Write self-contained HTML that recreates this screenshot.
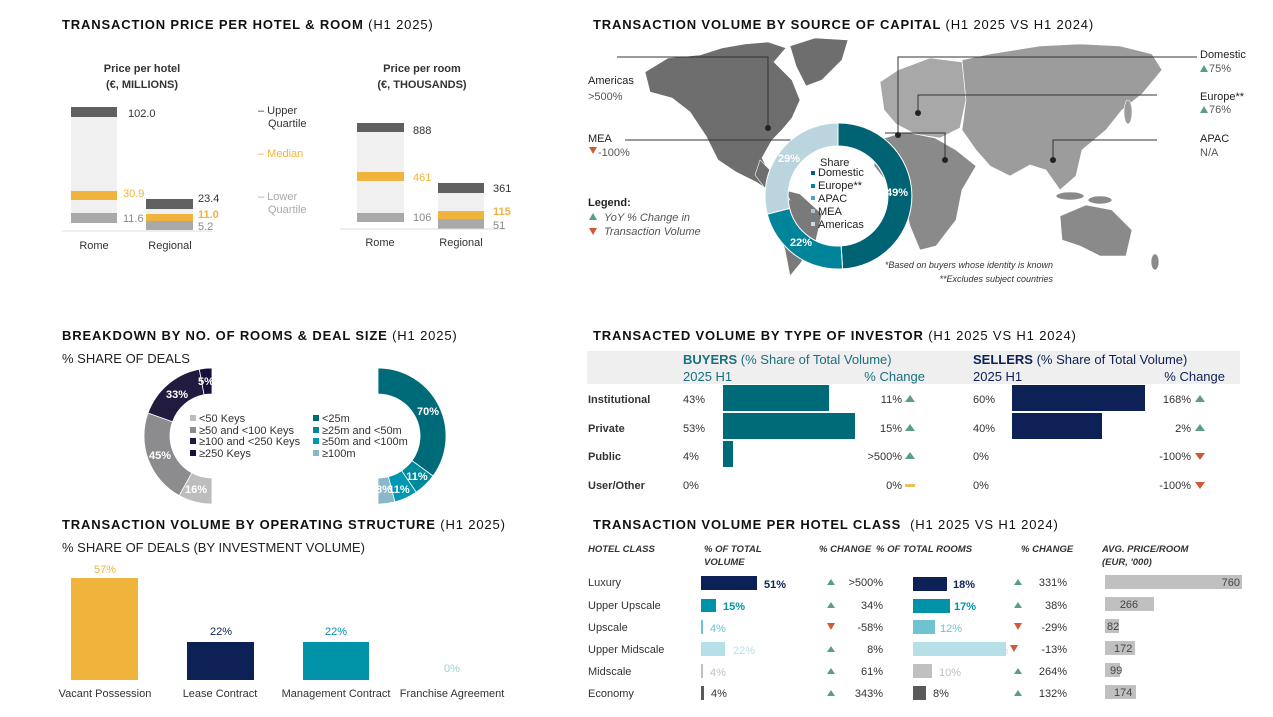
<!DOCTYPE html>
<html><head><meta charset="utf-8"><style>
html,body{margin:0;padding:0;background:#fff}
svg{display:block}
text{font-family:"Liberation Sans Narrow","Liberation Sans",sans-serif;font-size:11px;fill:#333}
.t{font-family:"Liberation Sans",sans-serif;font-size:13px;font-weight:bold;fill:#111;letter-spacing:0.85px}
.t tspan.n{font-weight:normal}
.h{font-family:"Liberation Sans",sans-serif;font-size:11px;font-weight:bold;fill:#333}
.w{fill:#fff;font-weight:bold}
.i{font-style:italic}
</style></head><body>
<svg width="1273" height="717" viewBox="0 0 1273 717" xmlns="http://www.w3.org/2000/svg">
<rect width="1273" height="717" fill="#fff"/>

<text class="t" x="62" y="29">TRANSACTION PRICE PER HOTEL &amp; ROOM <tspan class="n">(H1 2025)</tspan></text>
<text class="h" x="142" y="72" text-anchor="middle">Price per hotel</text>
<text class="h" x="142" y="88" text-anchor="middle">(€, MILLIONS)</text>
<text class="h" x="422" y="72" text-anchor="middle">Price per room</text>
<text class="h" x="422" y="88" text-anchor="middle">(€, THOUSANDS)</text>
<rect x="71" y="107" width="46" height="116" fill="#f0f0f0"/>
<rect x="71" y="107" width="46" height="10" fill="#5f6062"/>
<rect x="71" y="191" width="46" height="9" fill="#f0b43c"/>
<rect x="71" y="213" width="46" height="10" fill="#a9a9a9"/>
<rect x="146" y="199" width="47" height="31" fill="#f0f0f0"/>
<rect x="146" y="199" width="47" height="10" fill="#5f6062"/>
<rect x="146" y="214" width="47" height="7" fill="#f0b43c"/>
<rect x="146" y="221" width="47" height="9" fill="#a9a9a9"/>
<line x1="62" y1="231" x2="212" y2="231" stroke="#ddd"/>
<text x="128" y="117" fill="#555">102.0</text>
<text x="123" y="197" style="fill:#f0b43c">30.9</text>
<text x="123" y="222" style="fill:#888">11.6</text>
<text x="198" y="202">23.4</text>
<text x="198" y="218" style="fill:#f0b43c;font-weight:bold">11.0</text>
<text x="198" y="230" style="fill:#888">5.2</text>
<text x="94" y="249" text-anchor="middle">Rome</text>
<text x="170" y="249" text-anchor="middle">Regional</text>
<text x="258" y="114">– Upper</text><text x="268" y="127">Quartile</text>
<text x="258" y="157" style="fill:#f0b43c">– Median</text>
<text x="258" y="200" style="fill:#aaa">– Lower</text><text x="268" y="213" style="fill:#aaa">Quartile</text>
<rect x="357" y="123" width="47" height="99" fill="#f0f0f0"/>
<rect x="357" y="123" width="47" height="9" fill="#5f6062"/>
<rect x="357" y="172" width="47" height="9" fill="#f0b43c"/>
<rect x="357" y="213" width="47" height="9" fill="#a9a9a9"/>
<rect x="438" y="183" width="46" height="46" fill="#f0f0f0"/>
<rect x="438" y="183" width="46" height="10" fill="#5f6062"/>
<rect x="438" y="211" width="46" height="8" fill="#f0b43c"/>
<rect x="438" y="219" width="46" height="10" fill="#a9a9a9"/>
<line x1="340" y1="229" x2="505" y2="229" stroke="#ddd"/>
<text x="413" y="134">888</text>
<text x="413" y="181" style="fill:#f0b43c">461</text>
<text x="413" y="221" style="fill:#888">106</text>
<text x="493" y="192">361</text>
<text x="493" y="215" style="fill:#f0b43c;font-weight:bold">115</text>
<text x="493" y="229" style="fill:#888">51</text>
<text x="380" y="246" text-anchor="middle">Rome</text>
<text x="461" y="246" text-anchor="middle">Regional</text>

<text class="t" x="593" y="29">TRANSACTION VOLUME BY SOURCE OF CAPITAL <tspan class="n">(H1 2025 VS H1 2024)</tspan></text>
<g stroke="#fff" stroke-width="0.6">
<polygon fill="#6e6e6e" points="645,72 668,58 700,55 722,48 745,44 768,42 786,48 774,62 792,80 800,100 792,118 782,130 772,140 762,158 770,174 786,188 778,196 756,182 736,172 718,160 706,136 690,112 672,98 650,92"/>
<polygon fill="#6e6e6e" points="790,46 815,38 848,40 842,60 822,80 806,86 796,66"/>
<polygon fill="#7a7a7a" points="768,186 800,194 822,214 816,240 800,264 790,276 785,250 774,220"/>
<polygon fill="#a8a8a8" points="880,82 898,70 930,58 962,62 966,100 960,128 940,138 915,134 896,124 884,110"/>
<polygon fill="#8a8a8a" points="878,140 905,132 935,138 956,150 976,166 962,190 956,220 936,246 920,250 910,226 904,200 890,186 874,166"/>
<polygon fill="#9c9c9c" points="962,60 990,54 1040,46 1080,44 1120,46 1152,54 1162,70 1142,94 1122,110 1106,130 1082,150 1076,176 1060,190 1046,170 1030,165 1010,176 990,166 976,150 962,130 966,100"/>
<polygon fill="#8a8a8a" points="1060,216 1086,205 1112,210 1132,230 1126,256 1100,256 1080,246 1062,240"/>
<polygon fill="#6e6e6e" points="760,160 780,180 790,200 770,195 755,175"/>
<ellipse cx="1070" cy="196" rx="14" ry="4" fill="#8a8a8a"/>
<ellipse cx="1100" cy="200" rx="12" ry="4" fill="#8a8a8a"/>
<ellipse cx="1128" cy="112" rx="4" ry="12" fill="#9c9c9c"/>
<ellipse cx="1155" cy="262" rx="4" ry="8" fill="#8a8a8a"/>
</g>
<g stroke="#333" stroke-width="1" fill="none">
<polyline points="617,57 768,57 768,128"/>
<polyline points="625,140 798,140"/>
<polyline points="1197,57 898,57 898,135"/>
<polyline points="1157,95 918,95 918,113"/>
<polyline points="1157,140 1053,140 1053,160"/>
<polyline points="885,133 945,133 945,160"/>
</g>
<g fill="#222"><circle cx="768" cy="128" r="3"/><circle cx="898" cy="135" r="3"/><circle cx="918" cy="113" r="3"/><circle cx="1053" cy="160" r="3"/><circle cx="945" cy="160" r="3"/></g>
<g stroke="#fff" stroke-width="1">
<path fill="#006373" d="M838,123 A73,73 0 0 1 842.6,268.9 L841.1,245.9 A50,50 0 0 0 838,146 Z"/>
<path fill="#00849a" d="M842.6,268.9 A73,73 0 0 1 767.3,214.2 L789.6,208.4 A50,50 0 0 0 841.1,245.9 Z"/>
<path fill="#bad5dd" d="M767.3,214.2 A73,73 0 0 1 838,123 L838,146 A50,50 0 0 0 789.6,208.4 Z"/>
</g>
<text class="w" x="897" y="196" text-anchor="middle">49%</text>
<text class="w" x="801" y="246" text-anchor="middle">22%</text>
<text class="w" x="789" y="162" text-anchor="middle">29%</text>
<text x="820" y="166" style="fill:#222">Share</text>
<rect x="811" y="171" width="4" height="4" fill="#006373"/><text x="818" y="176" style="fill:#222">Domestic</text>
<rect x="811" y="184" width="4" height="4" fill="#00849a"/><text x="818" y="189" style="fill:#222">Europe**</text>
<rect x="811" y="196" width="4" height="4" fill="#4aa6c0"/><text x="818" y="202" style="fill:#222">APAC</text>
<rect x="811" y="209" width="4" height="4" fill="#a9c6d0"/><text x="818" y="215" style="fill:#222">MEA</text>
<rect x="811" y="222" width="4" height="4" fill="#c9dfe5"/><text x="818" y="228" style="fill:#222">Americas</text>
<text x="588" y="84" style="fill:#222">Americas</text><text x="588" y="100" style="fill:#555">&gt;500%</text>
<text x="588" y="142" style="fill:#222">MEA</text>
<polygon points="589,147 597,147 593,154" fill="#d05a36"/><text x="598" y="156" style="fill:#555">-100%</text>
<text x="588" y="206" style="fill:#222;font-weight:bold">Legend:</text>
<polygon points="589,220 597,220 593,213" fill="#5a9e86"/><text class="i" x="604" y="221" style="fill:#555">YoY % Change in</text>
<polygon points="589,228 597,228 593,235" fill="#d05a36"/><text class="i" x="604" y="235" style="fill:#555">Transaction Volume</text>
<text x="1200" y="58" style="fill:#222">Domestic</text>
<polygon points="1200,72 1208,72 1204,65" fill="#5a9e86"/><text x="1209" y="72" style="fill:#555">75%</text>
<text x="1200" y="100" style="fill:#222">Europe**</text>
<polygon points="1200,113 1208,113 1204,106" fill="#5a9e86"/><text x="1209" y="113" style="fill:#555">76%</text>
<text x="1200" y="142" style="fill:#222">APAC</text><text x="1200" y="156" style="fill:#555">N/A</text>
<text class="i" x="1053" y="268" text-anchor="end" style="font-size:9px;fill:#333">*Based on buyers whose identity is known</text>
<text class="i" x="1053" y="282" text-anchor="end" style="font-size:9px;fill:#333">**Excludes subject countries</text>

<text class="t" x="62" y="340">BREAKDOWN BY NO. OF ROOMS &amp; DEAL SIZE <tspan class="n">(H1 2025)</tspan></text>
<text x="62" y="363" style="font-family:'Liberation Sans',sans-serif;font-size:13px;fill:#222">% SHARE OF DEALS</text>
<g stroke="#fff" stroke-width="0.8">
<path fill="#bdbdbd" d="M212,504 A68,68 0 0 1 179.2,495.6 L191.8,472.8 A42,42 0 0 0 212,478 Z"/>
<path fill="#8c8c8e" d="M179.2,495.6 A68,68 0 0 1 148,413 L172.5,421.8 A42,42 0 0 0 191.8,472.8 Z"/>
<path fill="#211c3f" d="M148,413 A68,68 0 0 1 199.3,369.2 L204.1,394.7 A42,42 0 0 0 172.5,421.8 Z"/>
<path fill="#15113a" d="M199.3,369.2 A68,68 0 0 1 212,368 L212,394 A42,42 0 0 0 204.1,394.7 Z"/>
<path fill="#006b78" d="M378,368 A68,68 0 0 1 433,476 L412,460.7 A42,42 0 0 0 378,394 Z"/>
<path fill="#00899b" d="M433,476 A68,68 0 0 1 416.2,492.2 L401.6,470.7 A42,42 0 0 0 412,460.7 Z"/>
<path fill="#0098b0" d="M416.2,492.2 A68,68 0 0 1 394.9,501.9 L388.4,476.7 A42,42 0 0 0 401.6,470.7 Z"/>
<path fill="#8ab8c8" d="M394.9,501.9 A68,68 0 0 1 378,504 L378,478 A42,42 0 0 0 388.4,476.7 Z"/>
</g>
<text class="w" x="196" y="493" text-anchor="middle">16%</text>
<text class="w" x="160" y="459" text-anchor="middle">45%</text>
<text class="w" x="177" y="398" text-anchor="middle">33%</text>
<text class="w" x="206" y="385" text-anchor="middle">5%</text>
<text class="w" x="428" y="415" text-anchor="middle">70%</text>
<text class="w" x="417" y="480" text-anchor="middle">11%</text>
<text class="w" x="399" y="493" text-anchor="middle">11%</text>
<text class="w" x="384" y="493" text-anchor="middle">8%</text>
<g style="font-size:11px">
<rect x="190" y="415" width="6" height="6" fill="#bdbdbd"/><text x="199" y="422">&lt;50 Keys</text>
<rect x="190" y="427" width="6" height="6" fill="#8c8c8e"/><text x="199" y="434">≥50 and &lt;100 Keys</text>
<rect x="190" y="438" width="6" height="6" fill="#211c3f"/><text x="199" y="445">≥100 and &lt;250 Keys</text>
<rect x="190" y="450" width="6" height="6" fill="#15113a"/><text x="199" y="457">≥250 Keys</text>
<rect x="313" y="415" width="6" height="6" fill="#006b78"/><text x="322" y="422">&lt;25m</text>
<rect x="313" y="427" width="6" height="6" fill="#00899b"/><text x="322" y="434">≥25m and &lt;50m</text>
<rect x="313" y="438" width="6" height="6" fill="#0098b0"/><text x="322" y="445">≥50m and &lt;100m</text>
<rect x="313" y="450" width="6" height="6" fill="#8ab8c8"/><text x="322" y="457">≥100m</text>
</g>

<text class="t" x="62" y="529">TRANSACTION VOLUME BY OPERATING STRUCTURE <tspan class="n">(H1 2025)</tspan></text>
<text x="62" y="552" style="font-family:'Liberation Sans',sans-serif;font-size:13px;fill:#222">% SHARE OF DEALS (BY INVESTMENT VOLUME)</text>
<rect x="71" y="578" width="67" height="102" fill="#f0b43c"/>
<rect x="187" y="642" width="67" height="38" fill="#0d2157"/>
<rect x="303" y="642" width="66" height="38" fill="#0093a8"/>
<text x="105" y="573" text-anchor="middle" style="fill:#f0b43c">57%</text>
<text x="221" y="635" text-anchor="middle" style="fill:#0d2157">22%</text>
<text x="336" y="635" text-anchor="middle" style="fill:#0093a8">22%</text>
<text x="452" y="672" text-anchor="middle" style="fill:#9fd3dc">0%</text>
<text x="105" y="697" text-anchor="middle">Vacant Possession</text>
<text x="220" y="697" text-anchor="middle">Lease Contract</text>
<text x="336" y="697" text-anchor="middle">Management Contract</text>
<text x="452" y="697" text-anchor="middle">Franchise Agreement</text>

<text class="t" x="593" y="340">TRANSACTED VOLUME BY TYPE OF INVESTOR <tspan class="n">(H1 2025 VS H1 2024)</tspan></text>
<rect x="587" y="351" width="653" height="33" fill="#efefef"/>
<text x="683" y="364" style="font-size:13px;fill:#19707f"><tspan style="font-weight:bold">BUYERS</tspan> (% Share of Total Volume)</text>
<text x="683" y="381" style="font-size:13px;fill:#19707f">2025 H1</text>
<text x="925" y="381" text-anchor="end" style="font-size:13px;fill:#19707f">% Change</text>
<text x="973" y="364" style="font-size:13px;fill:#0d2157"><tspan style="font-weight:bold">SELLERS</tspan> (% Share of Total Volume)</text>
<text x="973" y="381" style="font-size:13px;fill:#0d2157">2025 H1</text>
<text x="1225" y="381" text-anchor="end" style="font-size:13px;fill:#0d2157">% Change</text>
<rect x="723" y="385" width="106" height="26" fill="#006b78"/>
<rect x="723" y="413" width="132" height="26" fill="#006b78"/>
<rect x="723" y="441" width="10" height="26" fill="#006b78"/>
<rect x="1012" y="385" width="133" height="26" fill="#0d2157"/>
<rect x="1012" y="413" width="90" height="26" fill="#0d2157"/>
<text x="588" y="403" style="font-weight:bold;fill:#333">Institutional</text>
<text x="588" y="432" style="font-weight:bold;fill:#333">Private</text>
<text x="588" y="460" style="font-weight:bold;fill:#333">Public</text>
<text x="588" y="489" style="font-weight:bold;fill:#333">User/Other</text>
<text x="683" y="403">43%</text><text x="683" y="432">53%</text><text x="683" y="460">4%</text><text x="683" y="489">0%</text>
<text x="902" y="403" text-anchor="end">11%</text><text x="902" y="432" text-anchor="end">15%</text><text x="902" y="460" text-anchor="end">&gt;500%</text><text x="902" y="489" text-anchor="end">0%</text>
<text x="973" y="403">60%</text><text x="973" y="432">40%</text><text x="973" y="460">0%</text><text x="973" y="489">0%</text>
<text x="1191" y="403" text-anchor="end">168%</text><text x="1191" y="432" text-anchor="end">2%</text><text x="1191" y="460" text-anchor="end">-100%</text><text x="1191" y="489" text-anchor="end">-100%</text>
<g fill="#5a9e86">
<polygon points="905,402 915,402 910,395"/><polygon points="905,431 915,431 910,424"/><polygon points="905,459 915,459 910,452"/>
<polygon points="1195,402 1205,402 1200,395"/><polygon points="1195,431 1205,431 1200,424"/>
</g>
<rect x="905" y="484" width="10" height="3" fill="#e8c25a"/>
<polygon points="1195,453 1205,453 1200,460" fill="#d05a36"/><polygon points="1195,482 1205,482 1200,489" fill="#d05a36"/>

<text class="t" x="593" y="529">TRANSACTION VOLUME PER HOTEL CLASS <tspan class="n">&#160;(H1 2025 VS H1 2024)</tspan></text>
<g class="i" style="font-weight:bold">
<text x="588" y="552" style="font-size:9.5px;fill:#333">HOTEL CLASS</text>
<text x="704" y="552" style="font-size:9.5px;fill:#333">% OF TOTAL</text>
<text x="704" y="565" style="font-size:9.5px;fill:#333">VOLUME</text>
<text x="819" y="552" style="font-size:9.5px;fill:#333">% CHANGE</text>
<text x="876" y="552" style="font-size:9.5px;fill:#333">% OF TOTAL ROOMS</text>
<text x="1021" y="552" style="font-size:9.5px;fill:#333">% CHANGE</text>
<text x="1102" y="552" style="font-size:9.5px;fill:#333">AVG. PRICE/ROOM</text>
<text x="1102" y="565" style="font-size:9.5px;fill:#333">(EUR, '000)</text>
</g>
<text x="588" y="586">Luxury</text><text x="588" y="609">Upper Upscale</text><text x="588" y="631">Upscale</text>
<text x="588" y="653">Upper Midscale</text><text x="588" y="675">Midscale</text><text x="588" y="697">Economy</text>
<rect x="701" y="576" width="56" height="14" fill="#0d2157"/><text x="764" y="588" style="fill:#0d2157;font-weight:bold">51%</text>
<rect x="701" y="599" width="15" height="13" fill="#0093a8"/><text x="723" y="610" style="fill:#0093a8;font-weight:bold">15%</text>
<rect x="701" y="620" width="2" height="14" fill="#6fc2d2"/><text x="710" y="632" style="fill:#6fc2d2">4%</text>
<rect x="701" y="642" width="24" height="14" fill="#b6e0e8"/><text x="733" y="654" style="fill:#b6e0e8">22%</text>
<rect x="701" y="664" width="2" height="14" fill="#c0c0c0"/><text x="710" y="676" style="fill:#c0c0c0">4%</text>
<rect x="701" y="686" width="3" height="14" fill="#5a5a5a"/><text x="711" y="697">4%</text>
<g fill="#5a9e86"><polygon points="827,585 835,585 831,579"/><polygon points="827,608 835,608 831,602"/><polygon points="827,652 835,652 831,646"/><polygon points="827,674 835,674 831,668"/><polygon points="827,696 835,696 831,690"/></g>
<polygon points="827,623 835,623 831,630" fill="#d05a36"/>
<g text-anchor="end"><text x="883" y="586">&gt;500%</text><text x="883" y="609">34%</text><text x="883" y="631">-58%</text><text x="883" y="653">8%</text><text x="883" y="675">61%</text><text x="883" y="697">343%</text></g>
<rect x="913" y="577" width="34" height="14" fill="#0d2157"/><text x="953" y="588" style="fill:#0d2157;font-weight:bold">18%</text>
<rect x="913" y="599" width="37" height="14" fill="#0093a8"/><text x="954" y="610" style="fill:#0093a8;font-weight:bold">17%</text>
<rect x="913" y="620" width="22" height="14" fill="#6fc2d2"/><text x="940" y="632" style="fill:#6fc2d2">12%</text>
<rect x="913" y="642" width="93" height="14" fill="#b6e0e8"/><text x="986" y="654" style="fill:#b6e0e8">35%</text>
<rect x="913" y="664" width="19" height="14" fill="#c0c0c0"/><text x="939" y="676" style="fill:#c0c0c0">10%</text>
<rect x="913" y="686" width="13" height="14" fill="#5a5a5a"/><text x="933" y="697">8%</text>
<g fill="#5a9e86"><polygon points="1014,585 1022,585 1018,579"/><polygon points="1014,608 1022,608 1018,602"/><polygon points="1014,674 1022,674 1018,668"/><polygon points="1014,696 1022,696 1018,690"/></g>
<polygon points="1014,623 1022,623 1018,630" fill="#d05a36"/><polygon points="1010,645 1018,645 1014,652" fill="#d05a36"/>
<g text-anchor="end"><text x="1067" y="586">331%</text><text x="1067" y="609">38%</text><text x="1067" y="631">-29%</text><text x="1067" y="653">-13%</text><text x="1067" y="675">264%</text><text x="1067" y="697">132%</text></g>
<g fill="#c0c0c0">
<rect x="1105" y="575" width="137" height="14"/><rect x="1105" y="597" width="49" height="14"/><rect x="1105" y="619" width="14" height="14"/>
<rect x="1105" y="641" width="30" height="14"/><rect x="1105" y="663" width="15" height="14"/><rect x="1105" y="685" width="31" height="14"/>
</g>
<text x="1240" y="586" text-anchor="end" style="fill:#444">760</text><text x="1129" y="608" text-anchor="middle" style="fill:#444">266</text>
<text x="1107" y="630" style="fill:#444">82</text><text x="1114" y="652" style="fill:#444">172</text><text x="1110" y="674" style="fill:#444">99</text><text x="1114" y="696" style="fill:#444">174</text>
</svg>
</body></html>
